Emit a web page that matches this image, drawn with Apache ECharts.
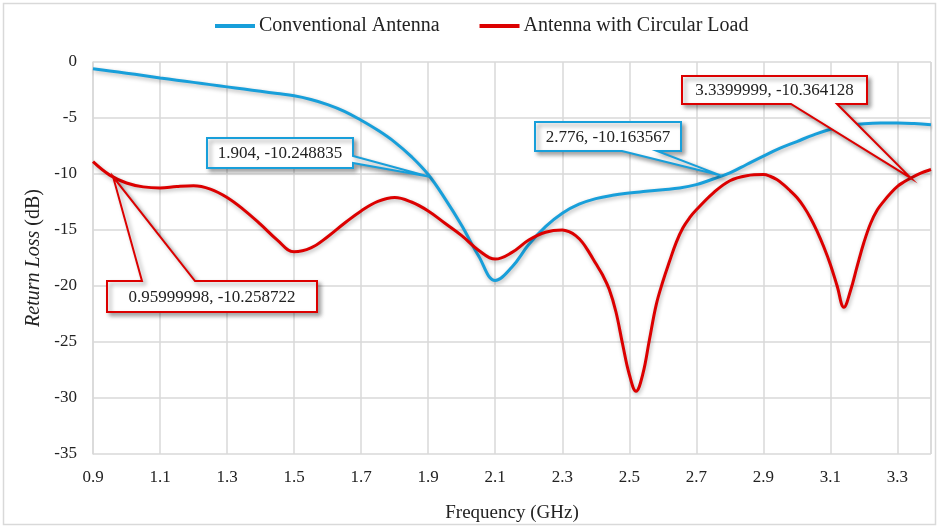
<!DOCTYPE html>
<html>
<head>
<meta charset="utf-8">
<script src="https://cdn.jsdelivr.net/npm/echarts@6/dist/echarts.min.js"></script>
<style>
html,body{margin:0;padding:0;background:#fff;}
#main{width:939px;height:528px;}
</style>
</head>
<body>
<div id="main"></div>
<script>
// ---- data ----
const blueFreq = [0.9, 0.95, 1.0, 1.05, 1.1, 1.15, 1.2, 1.25, 1.3, 1.35, 1.4, 1.45, 1.5, 1.55, 1.6, 1.65, 1.7, 1.75, 1.8, 1.85, 1.9, 1.95, 2.0, 2.05, 2.1, 2.15, 2.2, 2.25, 2.3, 2.35, 2.4, 2.45, 2.5, 2.55, 2.6, 2.65, 2.7, 2.75, 2.8, 2.85, 2.9, 2.95, 3.0, 3.05, 3.1, 3.15, 3.2, 3.25, 3.3, 3.35, 3.4];
const blueLoss = [-0.6, -0.8, -1.0, -1.2, -1.42, -1.62, -1.82, -2.02, -2.22, -2.42, -2.62, -2.82, -3.02, -3.35, -3.8, -4.4, -5.2, -6.1, -7.15, -8.45, -10.05, -12.2, -14.6, -17.3, -19.5, -18.3, -16.3, -14.7, -13.5, -12.7, -12.2, -11.9, -11.7, -11.55, -11.4, -11.25, -10.95, -10.45, -9.9, -9.15, -8.4, -7.7, -7.1, -6.5, -6.0, -5.7, -5.52, -5.45, -5.45, -5.5, -5.6];

const redFreq = [0.9, 0.95, 1.0, 1.05, 1.1, 1.15, 1.2, 1.25, 1.3, 1.35, 1.4, 1.45, 1.5, 1.55, 1.6, 1.65, 1.7, 1.75, 1.8, 1.85, 1.9, 1.95, 2.0, 2.05, 2.1, 2.15, 2.2, 2.25, 2.3, 2.32, 2.34, 2.36, 2.38, 2.4, 2.42, 2.44, 2.46, 2.48, 2.5, 2.52, 2.54, 2.56, 2.58, 2.6, 2.62, 2.64, 2.66, 2.68, 2.7, 2.75, 2.8, 2.85, 2.9, 2.92, 2.94, 2.96, 2.98, 3.0, 3.02, 3.04, 3.06, 3.08, 3.1, 3.12, 3.14, 3.16, 3.18, 3.2, 3.22, 3.24, 3.26, 3.28, 3.3, 3.32, 3.34, 3.36, 3.38, 3.4];
const redLoss = [-8.9, -10.1, -10.8, -11.15, -11.25, -11.12, -11.05, -11.35, -12.1, -13.2, -14.5, -15.9, -16.95, -16.6, -15.6, -14.4, -13.3, -12.45, -12.1, -12.5, -13.3, -14.4, -15.5, -16.8, -17.6, -17.0, -15.9, -15.2, -15.0, -15.15, -15.5, -16.1, -17.0, -18.0, -19.0, -20.3, -22.3, -25.2, -27.9, -29.4, -27.9, -24.8, -21.7, -19.6, -17.8, -16.1, -14.8, -13.9, -13.2, -11.7, -10.6, -10.15, -10.05, -10.2, -10.5, -10.95, -11.5, -12.1, -12.9, -13.9, -15.1, -16.5, -18.1, -20.0, -21.9, -20.4, -18.2, -16.1, -14.4, -13.2, -12.4, -11.7, -11.1, -10.7, -10.36, -10.05, -9.8, -9.6];

const seriesNames = ['Conventional Antenna', 'Antenna with Circular Load'];
const seriesColors = ['#189fda', '#dc0000'];

const xTickMin = 0.9, xTickMax = 3.4, xTickStep = 0.2;
const yTickMin = -35, yTickMax = 0, yTickStep = 5;

// callouts: data point, label text, series index
const calloutX = [1.904, 2.776, 3.3399999, 0.95999998];
const calloutY = [-10.248835, -10.163567, -10.364128, -10.258722];
const calloutText = ['1.904, -10.248835', '2.776, -10.163567', '3.3399999, -10.364128', '0.95999998, -10.258722'];
const calloutSeries = [0, 0, 1, 1];
// ---------------------------------------

const pair = (xs, ys) => xs.map((x, i) => [x, ys[i]]);
const font = '"Liberation Serif", "Times New Roman", serif';
const chart = echarts.init(document.getElementById('main'));

const lineSeries = (i, data) => ({
  name: seriesNames[i],
  type: 'line',
  data: data,
  smooth: 0.4,
  showSymbol: false,
  symbol: 'none',
  lineStyle: {
    color: seriesColors[i], width: 3,
    shadowColor: 'rgba(0,0,0,0.30)', shadowBlur: 4, shadowOffsetX: 1, shadowOffsetY: 2
  },
  itemStyle: { color: seriesColors[i] },
  z: 3 + i
});

chart.setOption({
  animation: false,
  backgroundColor: '#fff',
  legend: {
    top: 11,
    left: 210,
    itemWidth: 40,
    itemHeight: 4,
    itemGap: 40,
    icon: 'rect',
    textStyle: { fontFamily: font, fontSize: 20, color: '#222', padding: [0, 0, 0, -1] },
    data: seriesNames
  },
  grid: { left: 93, right: 8, top: 62, bottom: 72 },
  xAxis: {
    type: 'value',
    min: xTickMin, max: xTickMax, interval: xTickStep,
    name: 'Frequency (GHz)',
    nameLocation: 'middle',
    nameGap: 50,
    nameTextStyle: { fontFamily: font, fontSize: 19, color: '#222' },
    axisLine: { show: false },
    axisTick: { show: false },
    axisLabel: {
      fontFamily: font, fontSize: 17, color: '#222', margin: 15,
      showMaxLabel: false,
      formatter: v => v.toFixed(1)
    },
    splitLine: { show: true, lineStyle: { color: '#d9d9d9', width: 1.5 } }
  },
  yAxis: {
    type: 'value',
    min: yTickMin, max: yTickMax, interval: yTickStep,
    name: '{i|Return Loss} (dB)',
    nameLocation: 'middle',
    nameGap: 49,
    nameTextStyle: {
      fontFamily: font, fontSize: 20, color: '#222',
      rich: { i: { fontFamily: font, fontSize: 20, fontStyle: 'italic', color: '#222' } }
    },
    axisLine: { show: true, lineStyle: { color: '#d9d9d9', width: 1.5 } },
    axisTick: { show: false },
    axisLabel: { fontFamily: font, fontSize: 17, color: '#222', margin: 16 },
    splitLine: { show: true, lineStyle: { color: '#d9d9d9', width: 1.5 } }
  },
  series: [lineSeries(0, pair(blueFreq, blueLoss)), lineSeries(1, pair(redFreq, redLoss))]
});

function drawCallouts() {
  const g = [];
  // outer chart border
  g.push({ type: 'rect', shape: { x: 3.5, y: 3.5, width: 932, height: 521 }, style: { fill: 'none', stroke: '#d9d9d9', lineWidth: 1.5 }, silent: true, z: 0 });
  const rEdge = chart.convertToPixel({ gridIndex: 0 }, [xTickMax, yTickMax]);
  const bEdge = chart.convertToPixel({ gridIndex: 0 }, [xTickMax, yTickMin]);
  g.push({ type: 'line', shape: { x1: rEdge[0], y1: rEdge[1], x2: bEdge[0], y2: bEdge[1] }, style: { stroke: '#d9d9d9', lineWidth: 1.5 }, silent: true, z: 1 });

  // box layouts (pixels) and wedge side
  const boxes = [
    { x0: 207, y0: 138, x1: 353, y1: 168, side: 'right', w1: 156, w2: 163 },
    { x0: 535, y0: 122, x1: 681, y1: 151, side: 'bottom', w1: 622, w2: 657 },
    { x0: 682, y0: 76, x1: 867, y1: 104, side: 'bottom', w1: 791, w2: 837 },
    { x0: 107, y0: 281, x1: 317, y1: 312, side: 'top', w1: 142, w2: 195 }
  ];
  boxes.forEach((b, i) => {
    const tip = chart.convertToPixel({ gridIndex: 0 }, [calloutX[i], calloutY[i]]);
    let pts;
    if (b.side === 'right') {
      pts = [[b.x0, b.y0], [b.x1, b.y0], [b.x1, b.w1], tip, [b.x1, b.w2], [b.x1, b.y1], [b.x0, b.y1]];
    } else if (b.side === 'bottom') {
      pts = [[b.x0, b.y0], [b.x1, b.y0], [b.x1, b.y1], [b.w2, b.y1], tip, [b.w1, b.y1], [b.x0, b.y1]];
    } else {
      pts = [[b.x0, b.y0], [b.w1, b.y0], tip, [b.w2, b.y0], [b.x1, b.y0], [b.x1, b.y1], [b.x0, b.y1]];
    }
    const col = seriesColors[calloutSeries[i]];
    g.push({
      type: 'polygon', shape: { points: pts }, z: 100,
      style: { fill: '#fff', stroke: col, lineWidth: 2, lineJoin: 'miter',
        shadowColor: 'rgba(0,0,0,0.35)', shadowBlur: 4, shadowOffsetX: 3, shadowOffsetY: 3 },
      silent: true
    });
    g.push({
      type: 'text', z: 101, silent: true,
      style: { text: calloutText[i], x: (b.x0 + b.x1) / 2, y: (b.y0 + b.y1) / 2 + 1,
        textAlign: 'center', textVerticalAlign: 'middle',
        font: '17px ' + font, fill: '#222' }
    });
  });
  chart.setOption({ graphic: g });
}
drawCallouts();
</script>
</body>
</html>
